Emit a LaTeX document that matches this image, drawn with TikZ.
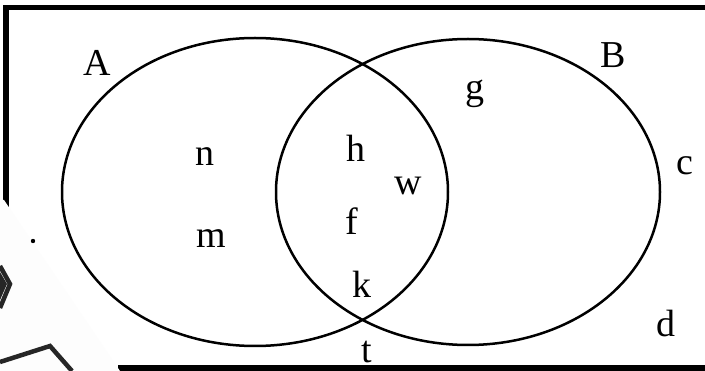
\documentclass[tikz,border=0pt]{standalone}
\usepackage{fontspec}
\setmainfont{Liberation Serif}
\usetikzlibrary{shapes.geometric}
\begin{document}
\begin{tikzpicture}[x=1pt,y=-1pt,
  setline/.style={line width=2.5pt, black},
  framerule/.style={line width=5.5pt, black},
  lbl/.style={font=\fontsize{38}{38}\selectfont, inner sep=0pt, anchor=center},
  frag/.style={line width=4.5pt, black!85, line cap=butt, line join=miter}]
\useasboundingbox (0,0) rectangle (705,371);
\fill[white] (0,0) rectangle (705,371);
% frame
\draw[framerule] (6,208) -- (6,7.5) -- (705,7.5);
\draw[framerule] (118,368) -- (705,368);
% overlay (page fragment)
\fill[black!0.8] (0,200) -- (4,200) -- (120,371) -- (0,371) -- cycle;
\draw[frag] (0,266) -- (10,284) -- (0,308);
\fill[black!85] (0,272) -- (7,284) -- (0,300) -- cycle;
\draw[frag] (0,362) -- (50,346) -- (72,371);
\coordinate (dotc) at (33,241);
\fill (dotc) circle (2.2);
% sets
\node[setline, draw, ellipse, minimum width=386, minimum height=308, inner sep=0pt] (setA) at (255,192) {};
\node[setline, draw, ellipse, minimum width=384, minimum height=306, inner sep=0pt] (setB) at (468,192) {};
% labels
\node[lbl] (lA) at (97,63) {A};
\node[lbl] (lB) at (613,55) {B};
\node[lbl] (ln) at (205,157) {n};
\node[lbl] (lh) at (356,148) {h};
\node[lbl] (lw) at (408,186) {w};
\node[lbl] (lg) at (475,94) {g};
\node[lbl] (lc) at (685,166) {c};
\node[lbl] (lm) at (211,239) {m};
\node[lbl] (lf) at (352,221) {f};
\node[lbl] (lk) at (362,284) {k};
\node[lbl] (ld) at (666,324) {d};
\node[lbl] (lt) at (367,352) {t};
\end{tikzpicture}
\end{document}
